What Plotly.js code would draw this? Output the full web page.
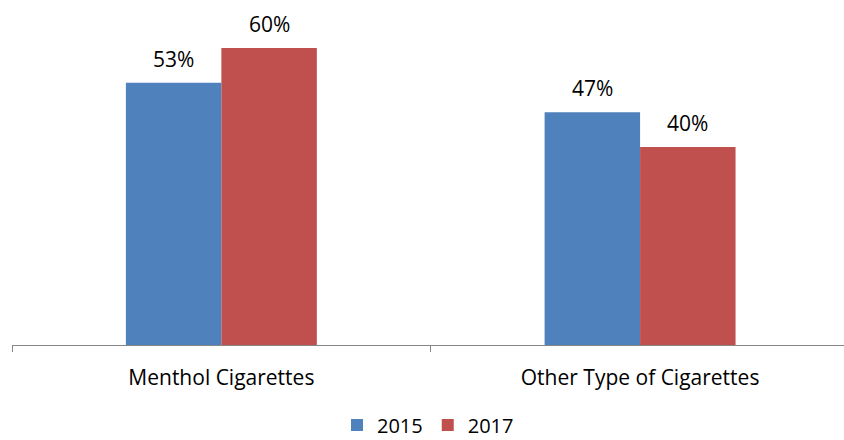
<!DOCTYPE html>
<html>
<head>
<meta charset="utf-8">
<script src="https://cdn.plot.ly/plotly-3.0.1.min.js"></script>
<style>html,body{margin:0;padding:0;background:#fff;}#chart{width:844px;height:440px;}</style>
</head>
<body>
<div id="chart"></div>
<script>
const categories = ["Menthol Cigarettes", "Other Type of Cigarettes"];
const seriesNames = ["2015", "2017"];
const values2015 = [53, 47];
const values2017 = [60, 40];
const colors = ["#4F81BD", "#C0504D"];

const FONT = "Open Sans, sans-serif";
const allValues = [values2015, values2017];

const traces = allValues.map((vals, i) => ({
  type: "bar",
  name: seriesNames[i],
  x: categories,
  y: vals,
  marker: {color: colors[i], line: {width: 0}},
  hoverinfo: "none"
}));

// bar half-width in px: plot width 832 over range 1.987 units
const unitPx = 832 / 1.987;
const barPx = unitPx * (1 - 0.544) / 2;
const annotations = [];
allValues.forEach((vals, i) => {
  vals.forEach((v, j) => {
    annotations.push({
      x: categories[j], y: v, xref: "x", yref: "y",
      text: v + "%",
      showarrow: false,
      xshift: (i === 0 ? -1 : 1) * barPx / 2,
      yshift: 24,
      yanchor: "middle",
      font: {family: FONT, size: 21, color: "#000"}
    });
  });
});

const layout = {
  width: 844, height: 440,
  margin: {l: 12, r: 0, t: 0, b: 95},
  paper_bgcolor: "#fff", plot_bgcolor: "#fff",
  barmode: "group",
  bargap: 0.544,
  bargroupgap: 0,
  showlegend: true,
  legend: {
    orientation: "h", x: 0.5, xanchor: "center",
    yref: "container", y: 0.034, yanchor: "middle",
    font: {family: FONT, size: 20, color: "#000"},
    itemclick: false
  },
  xaxis: {
    type: "category",
    range: [-0.5, 1.487],
    automargin: false,
    showline: true, linecolor: "#868686", linewidth: 1,
    ticks: "outside", tickson: "boundaries", ticklen: 6, tickcolor: "#868686", tickwidth: 1,
    tickfont: {family: FONT, size: 21, color: "#000"},
    ticklabelstandoff: 14,
    showgrid: false, zeroline: false, fixedrange: true
  },
  yaxis: {
    range: [0, 69.7],
    automargin: false,
    visible: false, showgrid: false, zeroline: false, fixedrange: true
  },
  annotations: annotations
};

Plotly.newPlot("chart", traces, layout, {displayModeBar: false, staticPlot: true});
</script>
</body>
</html>
